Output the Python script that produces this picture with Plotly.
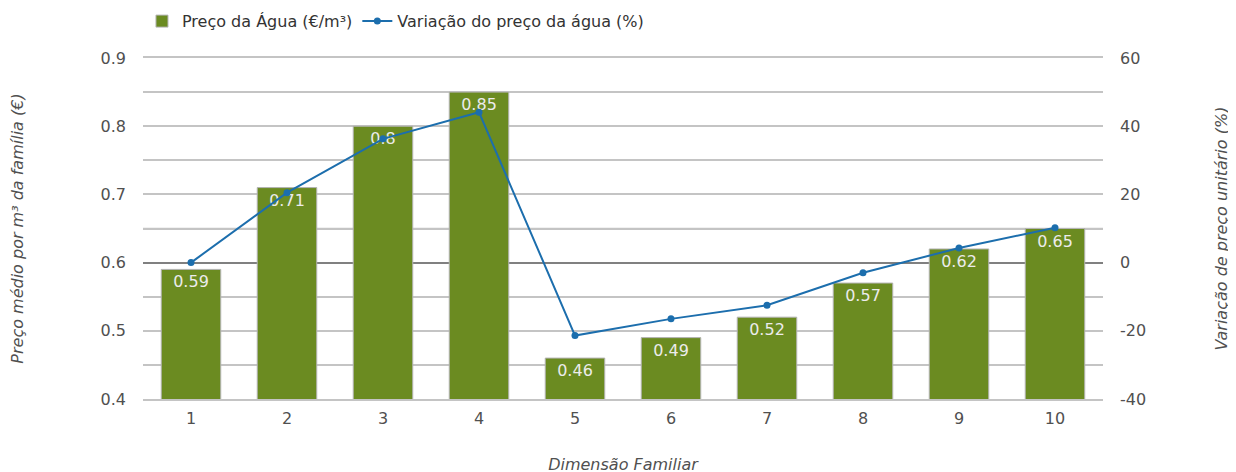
import plotly.graph_objects as go

categories = ["1", "2", "3", "4", "5", "6", "7", "8", "9", "10"]
preco = [0.59, 0.71, 0.8, 0.85, 0.46, 0.49, 0.52, 0.57, 0.62, 0.65]
variacao = [0, 20.5, 36.3, 44.1, -21.4, -16.5, -12.5, -3.0, 4.3, 10.2]
bar_labels = ["0.59", "0.71", "0.8", "0.85", "0.46", "0.49", "0.52", "0.57", "0.62", "0.65"]
y1_ticks = [0.4, 0.5, 0.6, 0.7, 0.8, 0.9]
y1_ticktext = ["0.4", "0.5", "0.6", "0.7", "0.8", "0.9"]
y2_ticks = [-40, -20, 0, 20, 40, 60]
y2_ticktext = ["-40", "-20", "0", "20", "40", "60"]

FONT = "DejaVu Sans"
GREEN = "#6b8b21"
BLUE = "#1c6ead"
TXT = "#505050"
GRID = "#c4c4c4"

fig = go.Figure()
fig.add_trace(go.Bar(
    x=categories, y=preco, name="Preço da Água (€/m³)",
    marker=dict(color=GREEN, line=dict(color="#b4b4b4", width=1)),
    text=bar_labels, textposition="inside", insidetextanchor="end",
    textfont=dict(color="#ececec", size=16, family=FONT),
    textangle=0, cliponaxis=False,
))
fig.add_trace(go.Scatter(
    x=categories, y=variacao, name="Variação do preço da água (%)",
    yaxis="y2", mode="lines+markers",
    line=dict(color=BLUE, width=2), marker=dict(color=BLUE, size=7),
))

fig.update_layout(
    width=1236, height=472,
    margin=dict(l=135, r=141, t=50, b=81, autoexpand=False),
    paper_bgcolor="white", plot_bgcolor="white",
    font=dict(family=FONT, size=16, color=TXT),
    bargap=0.38,
    showlegend=True,
    legend=dict(orientation="h", xref="container", yref="container",
                x=0.1084, y=0.972, xanchor="left", yanchor="middle",
                font=dict(size=16, color="#333333"),
                traceorder="normal", itemwidth=30),
    xaxis=dict(
        range=[-0.5, len(categories) - 0.5],
        showgrid=False, showline=True, mirror=True, linecolor=GRID, linewidth=1.5,
        ticks="", automargin=False, ticklabelstandoff=4,
        title=dict(text="<i>Dimensão Familiar</i>", font=dict(size=16, color=TXT), standoff=32),
        tickfont=dict(size=16, color=TXT),
    ),
    yaxis=dict(
        range=[0.4, 0.9], tickvals=y1_ticks, ticktext=y1_ticktext,
        showgrid=True, gridcolor=GRID, gridwidth=1.5,
        minor=dict(dtick=0.05, showgrid=True, gridcolor=GRID, gridwidth=1.5),
        zeroline=False, showline=False, ticks="", automargin=False,
        ticklabelstandoff=16,
        title=dict(text="<i>Preço médio por m³ da família (€)</i>", font=dict(size=16, color=TXT), standoff=76),
        tickfont=dict(size=16, color=TXT),
    ),
    yaxis2=dict(
        overlaying="y", side="right", range=[-40, 60], tickvals=y2_ticks, ticktext=y2_ticktext,
        showgrid=False, zeroline=True, zerolinecolor="#808080", zerolinewidth=1.5,
        showline=False, ticks="", ticklabelstandoff=16, automargin=False,
        title=dict(text="<i>Variação de preço unitário (%)</i>", font=dict(size=16, color=TXT), standoff=70),
        tickfont=dict(size=16, color=TXT),
    ),
    shapes=[dict(type="line", xref="paper", yref="y2", x0=0, x1=1, y0=10, y1=10,
                 line=dict(color="#e4e4e4", width=2), layer="below")],
)

fig.write_html("out.html")
